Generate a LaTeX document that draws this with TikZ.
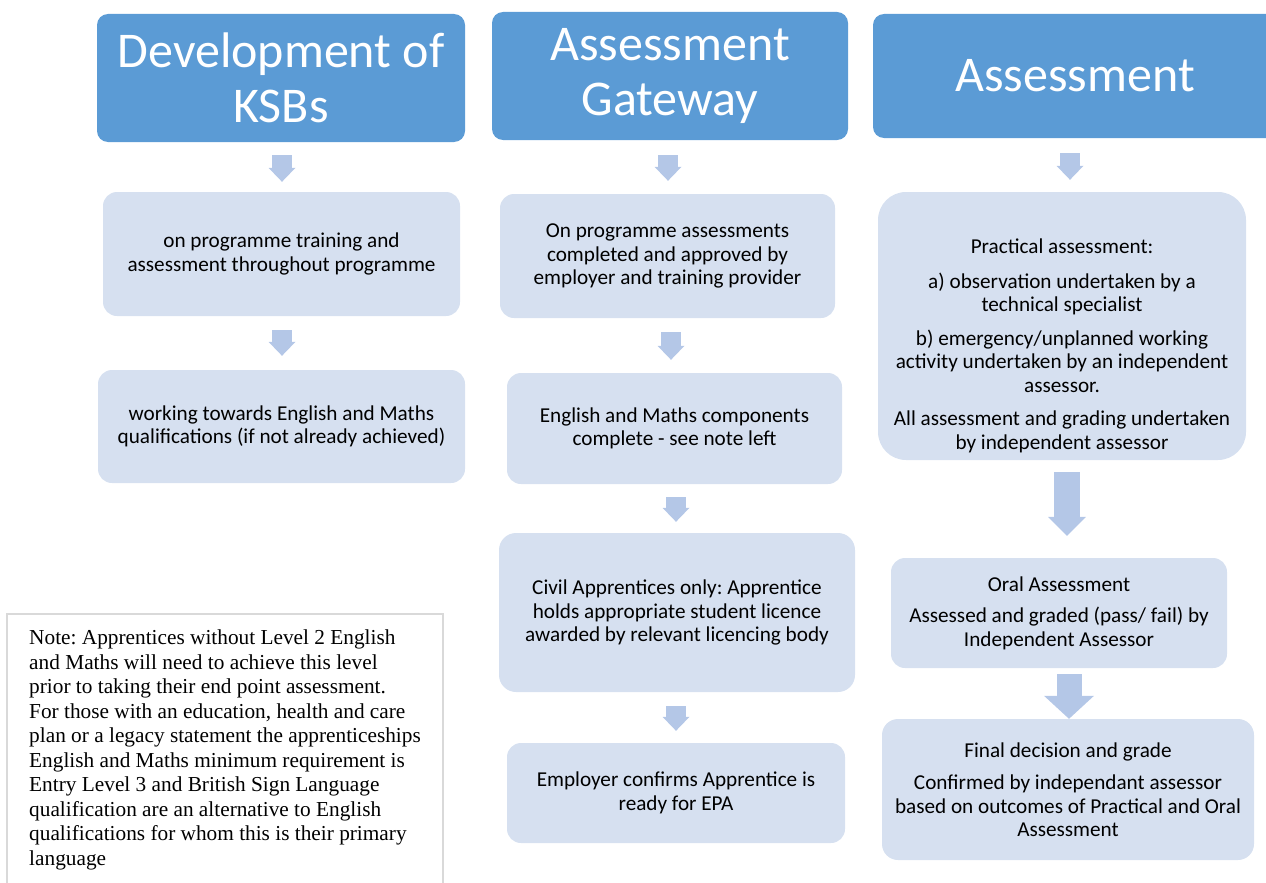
\documentclass[tikz,border=0pt]{standalone}
\usepackage{fontspec}
\setmainfont{Carlito}
\newfontfamily\notefont{Liberation Serif}
\usetikzlibrary{arrows.meta,calc}
\definecolor{hdrblue}{HTML}{5B9BD5}
\definecolor{boxblue}{HTML}{D6E0F0}
\definecolor{arrowblue}{HTML}{B4C7E7}
\definecolor{notegray}{HTML}{D9D9D9}
\frenchspacing

\begin{document}
\begin{tikzpicture}[x=1pt,y=-1pt,
	hdr/.style={fill=hdrblue,text=white,align=center,inner sep=0pt,rounded corners=11pt,
		font=\fontsize{50pt}{55pt}\selectfont},
	stage/.style={fill=boxblue,align=center,inner sep=0pt,rounded corners=14pt,
		font=\fontsize{21.2pt}{23.5pt}\selectfont},
	flow/.style n args={3}{draw=arrowblue,line width=#1,-{Triangle[width=#2,length=#3,line width=0pt]}},
	notebox/.style={draw=notegray,line width=2pt,align=left,minimum width=436pt,inner xsep=0pt,inner ysep=16pt,
		font=\notefont\fontsize{21.3pt}{24.5pt}\selectfont}]
	\clip (0,0) rectangle (1266,883);
	% headings
	\node[hdr,minimum width=368pt,minimum height=128pt] (hdrA) at (281,78) {Development of\\KSBs};
	\node[hdr,minimum width=356pt,minimum height=128pt] (hdrB) at (670,76) {Assessment\\Gateway};
	\node[hdr,minimum width=404pt,minimum height=124pt] (hdrC) at (1075,76) {Assessment};
	% column 1
	\node[stage,minimum width=357pt,minimum height=124pt] (boxA) at (281.5,254) {on programme training and\\assessment throughout programme};
	\node[stage,minimum width=367pt,minimum height=113pt] (boxB) at (281.5,426.5) {working towards English and Maths\\qualifications (if not already achieved)};
	% column 2
	\node[stage,minimum width=335pt,minimum height=124pt] (boxC) at (667.5,256) {On programme assessments\\completed and approved by\\employer and training provider};
	\node[stage,minimum width=335pt,minimum height=111pt] (boxD) at (674.5,428.5) {English and Maths components\\complete - see note left};
	\node[stage,minimum width=356pt,minimum height=159pt,rounded corners=17pt] (boxE) at (677,612.5) {Civil Apprentices only: Apprentice\\holds appropriate student licence\\awarded by relevant licencing body};
	\node[stage,minimum width=338pt,minimum height=100pt] (boxF) at (676,793) {Employer confirms Apprentice is\\ready for EPA};
	% column 3
	\node[stage,minimum width=368pt,minimum height=268pt,rounded corners=28pt] (boxG) at (1062,326) {};
	\node[stage,fill=none] (boxGtext) at ($(boxG)+(0,20)$) {Practical assessment:\\[11pt]
		a) observation undertaken by a\\technical specialist\\[10pt]
		b) emergency/unplanned working\\activity undertaken by an independent\\assessor.\\[10pt]
		All assessment and grading undertaken\\by independent assessor};
	\node[stage,minimum width=336pt,minimum height=110pt] (boxH) at (1059,613) {Oral Assessment\\[8pt]Assessed and graded (pass/ fail) by\\Independent Assessor};
	\node[stage,minimum width=372pt,minimum height=141pt,rounded corners=16pt] (boxI) at (1068,789.5) {Final decision and grade\\[9pt]Confirmed by independant assessor\\based on outcomes of Practical and Oral\\Assessment};
	% note
	\node[notebox,anchor=north west] (note) at (6,613) {Note: Apprentices without Level 2 English\\
		and Maths will need to achieve this level\\
		prior to taking their end point assessment.\\
		For those with an education, health and care\\
		plan or a legacy statement the apprenticeships\\
		English and Maths minimum requirement is\\
		Entry Level 3 and British Sign Language\\
		qualification are an alternative to English\\
		qualifications for whom this is their primary\\
		language};
	% arrows
	\draw[flow={20pt}{27pt}{14pt}] ($(hdrA.south)+(1,13)$) -- ($(hdrA.south |- boxA.north)+(1,-10)$);
	\draw[flow={20pt}{27pt}{14pt}] ($(boxA.south)+(0.5,14)$) -- ($(boxA.south |- boxB.north)+(0.5,-14)$);
	\draw[flow={20pt}{27pt}{14pt}] ($(hdrB.south)+(-2,15)$) -- ($(hdrB.south |- boxC.north)+(-2,-13)$);
	\draw[flow={20pt}{27pt}{14pt}] ($(boxC.south)+(3.5,14)$) -- ($(boxC.south |- boxD.north)+(3.5,-13)$);
	\draw[flow={20pt}{27pt}{14pt}] ($(boxD.south)+(1.5,13)$) -- ($(boxD.south |- boxE.north)+(1.5,-11)$);
	\draw[flow={20pt}{27pt}{14pt}] ($(boxE.south)+(-1,14)$) -- ($(boxE.south |- boxF.north)+(-1,-12)$);
	\draw[flow={20pt}{27pt}{14pt}] ($(hdrC.south)+(-5,15)$) -- ($(hdrC.south |- boxG.north)+(-5,-12)$);
	\draw[flow={26pt}{38pt}{19pt}] ($(boxG.south)+(5,12)$) -- ($(boxG.south |- boxH.north)+(5,-22)$);
	\draw[flow={25pt}{50pt}{23pt}] ($(boxH.south)+(10,6)$) -- ($(boxH.south |- boxI.north)+(10,0)$);
\end{tikzpicture}
\end{document}
